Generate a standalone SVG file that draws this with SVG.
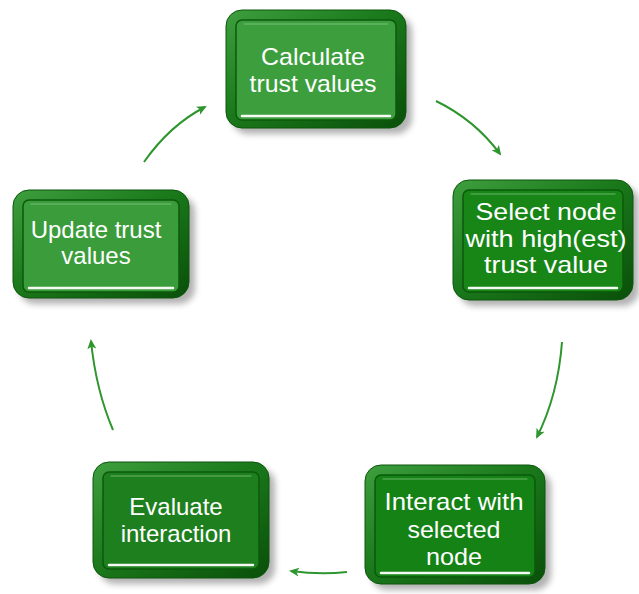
<svg xmlns="http://www.w3.org/2000/svg" width="639" height="594" viewBox="0 0 639 594">
  <defs>
    <linearGradient id="rim" x1="0" y1="0" x2="1" y2="1">
      <stop offset="0" stop-color="#3f9f3f"/>
      <stop offset="0.45" stop-color="#1b7a1b"/>
      <stop offset="1" stop-color="#0a4f0a"/>
    </linearGradient>
    <filter id="shadow" x="-20%" y="-20%" width="140%" height="140%">
      <feGaussianBlur stdDeviation="3"/>
    </filter>
    <marker id="arrow" viewBox="0 0 10 10" refX="8" refY="5" markerWidth="10" markerHeight="10" markerUnits="userSpaceOnUse" orient="auto">
      <path d="M0,0.5 L10,5 L0,9.5 L2.5,5 Z" fill="#2e962e"/>
    </marker>
  </defs>
  <style>
    .shadow { fill: #555; opacity: 0.45; filter: url(#shadow); }
    .rim { fill: url(#rim); stroke: #0c560c; stroke-width: 1; }
    .face { stroke: #0b5a0b; stroke-width: 1.5; }
    .hl { stroke: #ffffff; stroke-width: 2.5; stroke-linecap: round; opacity: 0.95; }
    .hl2 { stroke: #9fd79f; stroke-width: 1.2; stroke-linecap: round; opacity: 0.6; }
    .label { font-family: "Liberation Sans", Arial, sans-serif; font-size: 24px; fill: #ffffff; text-anchor: middle; }
    .conn path { fill: none; stroke: #2e962e; stroke-width: 2; marker-end: url(#arrow); }
  </style>

  <rect width="639" height="594" fill="#ffffff"/>

  <!-- Calculate trust values -->
  <g id="node-calculate">
    <rect class="shadow" x="232" y="16" width="180" height="118" rx="16"/>
    <rect class="rim" x="226" y="10" width="180" height="118" rx="16"/>
    <rect class="face" x="236" y="20" width="160" height="100" rx="6" fill="#3c9e3c"/>
    <line class="hl2" x1="244" y1="24" x2="388" y2="24"/>
    <line class="hl" x1="242" y1="116" x2="390" y2="116"/>
    <text class="label" x="313" y="65" textLength="104" lengthAdjust="spacingAndGlyphs">Calculate</text>
    <text class="label" x="313" y="92" textLength="127" lengthAdjust="spacingAndGlyphs">trust values</text>
  </g>

  <!-- Select node with high(est) trust value -->
  <g id="node-select">
    <rect class="shadow" x="459" y="186" width="180" height="120" rx="16"/>
    <rect class="rim" x="453" y="180" width="180" height="120" rx="16"/>
    <rect class="face" x="463" y="190" width="160" height="102" rx="6" fill="#178617"/>
    <line class="hl2" x1="471" y1="194" x2="615" y2="194"/>
    <line class="hl" x1="469" y1="288" x2="617" y2="288"/>
    <text class="label" x="546" y="220" textLength="141" lengthAdjust="spacingAndGlyphs">Select node</text>
    <text class="label" x="546" y="247" textLength="161" lengthAdjust="spacingAndGlyphs">with high(est)</text>
    <text class="label" x="546" y="273" textLength="124" lengthAdjust="spacingAndGlyphs">trust value</text>
  </g>

  <!-- Interact with selected node -->
  <g id="node-interact">
    <rect class="shadow" x="371" y="471" width="180" height="119" rx="16"/>
    <rect class="rim" x="365" y="465" width="180" height="119" rx="16"/>
    <rect class="face" x="375" y="475" width="160" height="102" rx="6" fill="#148214"/>
    <line class="hl2" x1="383" y1="479" x2="527" y2="479"/>
    <line class="hl" x1="381" y1="573" x2="529" y2="573"/>
    <text class="label" x="454" y="510" textLength="139" lengthAdjust="spacingAndGlyphs">Interact with</text>
    <text class="label" x="454" y="538" textLength="93" lengthAdjust="spacingAndGlyphs">selected</text>
    <text class="label" x="454" y="565" textLength="56" lengthAdjust="spacingAndGlyphs">node</text>
  </g>

  <!-- Evaluate interaction -->
  <g id="node-evaluate">
    <rect class="shadow" x="99" y="468" width="176" height="116" rx="16"/>
    <rect class="rim" x="93" y="462" width="176" height="116" rx="16"/>
    <rect class="face" x="103" y="472" width="156" height="97" rx="6" fill="#1e7f1e"/>
    <line class="hl2" x1="111" y1="476" x2="251" y2="476"/>
    <line class="hl" x1="109" y1="565" x2="253" y2="565"/>
    <text class="label" x="176" y="515">Evaluate</text>
    <text class="label" x="176" y="542">interaction</text>
  </g>

  <!-- Update trust values -->
  <g id="node-update">
    <rect class="shadow" x="19" y="196" width="176" height="108" rx="16"/>
    <rect class="rim" x="13" y="190" width="176" height="108" rx="16"/>
    <rect class="face" x="23" y="200" width="156" height="92" rx="6" fill="#3a9c3a"/>
    <line class="hl2" x1="31" y1="204" x2="171" y2="204"/>
    <line class="hl" x1="29" y1="288" x2="173" y2="288"/>
    <text class="label" x="96" y="238">Update trust</text>
    <text class="label" x="96" y="264">values</text>
  </g>

  <!-- cycle connectors -->
  <g id="connectors" class="conn">
    <path d="M436,101 Q475,120 500,154"/>
    <path d="M562,342 Q558,395 537,437"/>
    <path d="M347,572 Q320,575 291,571"/>
    <path d="M113,430 Q96,390 91,341"/>
    <path d="M144,162 Q170,125 205,107"/>
  </g>
</svg>
